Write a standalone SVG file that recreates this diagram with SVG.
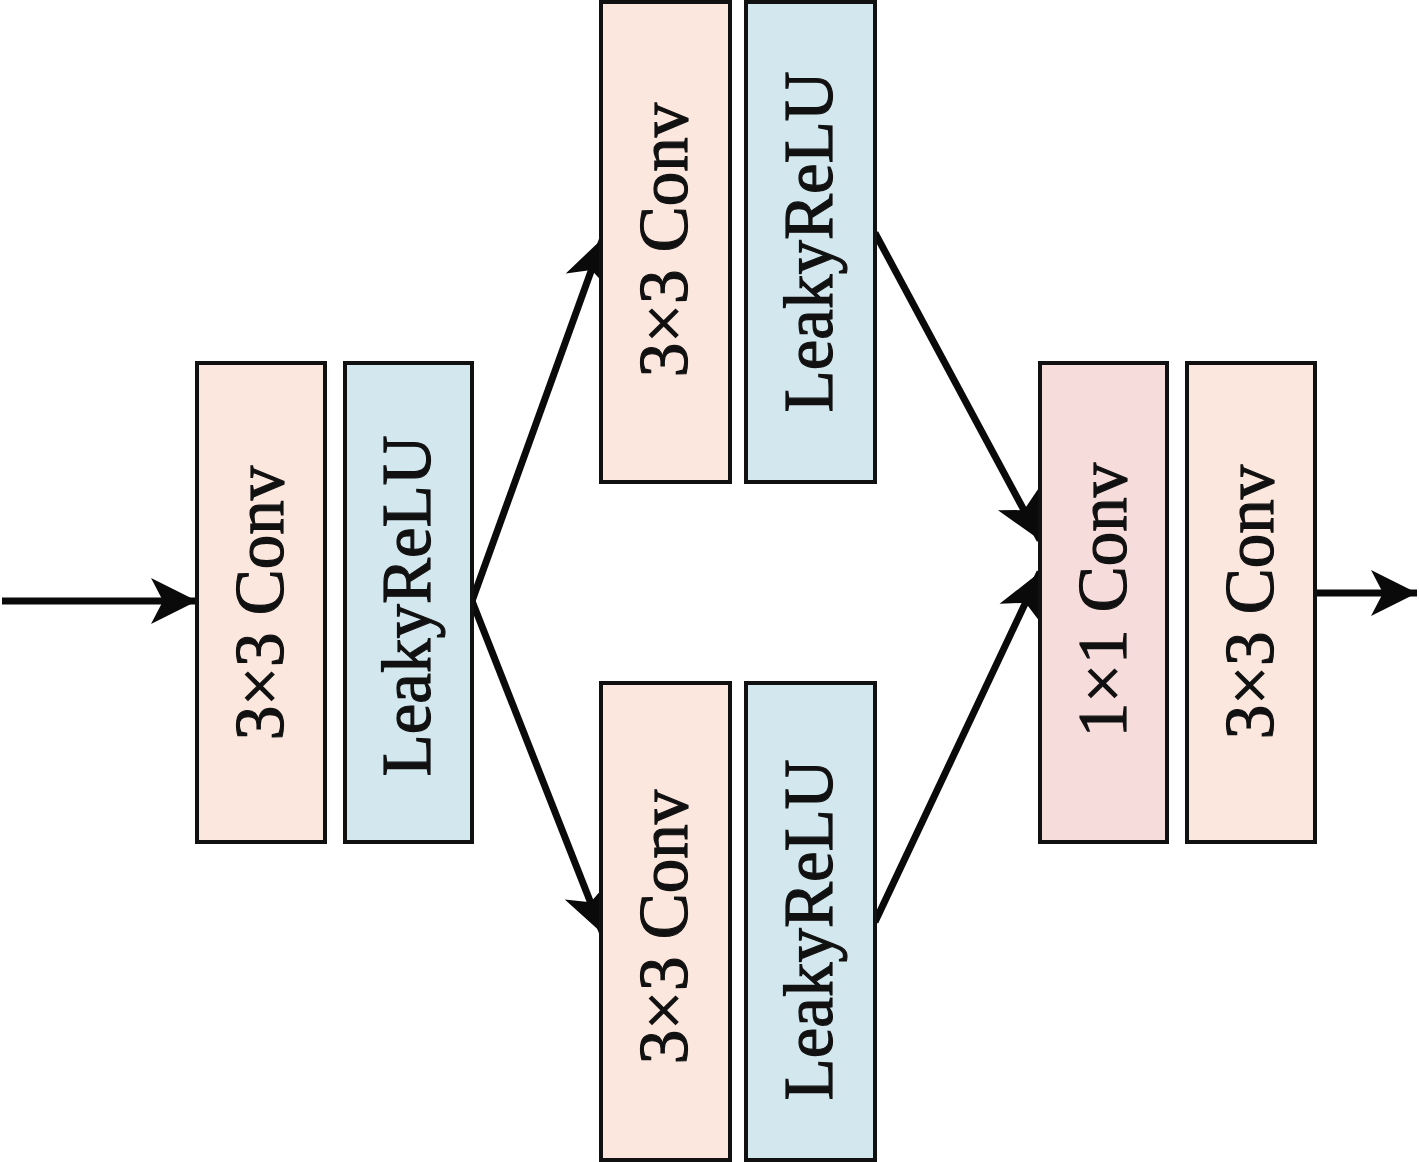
<svg xmlns="http://www.w3.org/2000/svg" width="1419" height="1162" viewBox="0 0 1419 1162">
<style>
.box{stroke:#111;stroke-width:4}
.conv{fill:#fbe7dd}
.relu{fill:#d3e8ee}
.one{fill:#f6dcdb}
.lbl{font-family:"Liberation Serif","Times New Roman",serif;font-size:69px;fill:#111;stroke:#111;stroke-width:1.2;text-anchor:middle}
.edge{stroke:#0a0a0a;stroke-width:7;fill:none;marker-end:url(#ah)}
</style>
<defs>
<marker id="ah" markerUnits="userSpaceOnUse" viewBox="-48 -26 52 52" refX="0" refY="0" markerWidth="52" markerHeight="52" orient="auto">
<path d="M0,0 L-46,-23 L-34,0 L-46,23 Z" fill="#0a0a0a"/>
</marker>
</defs>
<rect width="1419" height="1162" fill="#fff"/>
<g id="connectors">
<line class="edge" x1="2" y1="601" x2="197" y2="601"/>
<line class="edge" x1="472" y1="601" x2="603" y2="238"/>
<line class="edge" x1="472" y1="601" x2="603" y2="934"/>
<line class="edge" x1="875" y1="233" x2="1040" y2="540"/>
<line class="edge" x1="875" y1="922" x2="1040" y2="572"/>
<line class="edge" x1="1315" y1="593" x2="1417" y2="593"/>
</g>
<g id="conv1">
<rect class="box conv" x="197" y="363" width="128" height="479"/>
<text class="lbl" transform="translate(261,603) rotate(-90)" y="22">3×3 Conv</text>
</g>
<g id="relu1">
<rect class="box relu" x="345" y="363" width="127" height="479"/>
<text class="lbl" transform="translate(408,606) rotate(-90)" y="22">LeakyReLU</text>
</g>
<g id="conv_top">
<rect class="box conv" x="601" y="2" width="129" height="480"/>
<text class="lbl" transform="translate(665,240) rotate(-90)" y="22">3×3 Conv</text>
</g>
<g id="relu_top">
<rect class="box relu" x="746" y="2" width="129" height="480"/>
<text class="lbl" transform="translate(810,242) rotate(-90)" y="22">LeakyReLU</text>
</g>
<g id="conv_bottom">
<rect class="box conv" x="601" y="683" width="129" height="477"/>
<text class="lbl" transform="translate(665,927) rotate(-90)" y="22">3×3 Conv</text>
</g>
<g id="relu_bottom">
<rect class="box relu" x="746" y="683" width="129" height="477"/>
<text class="lbl" transform="translate(810,930) rotate(-90)" y="22">LeakyReLU</text>
</g>
<g id="conv1x1">
<rect class="box one" x="1040" y="363" width="127" height="479"/>
<text class="lbl" transform="translate(1104,600) rotate(-90)" y="22">1×1 Conv</text>
</g>
<g id="conv_out">
<rect class="box conv" x="1187" y="363" width="128" height="479"/>
<text class="lbl" transform="translate(1251,602) rotate(-90)" y="22">3×3 Conv</text>
</g>
</svg>
